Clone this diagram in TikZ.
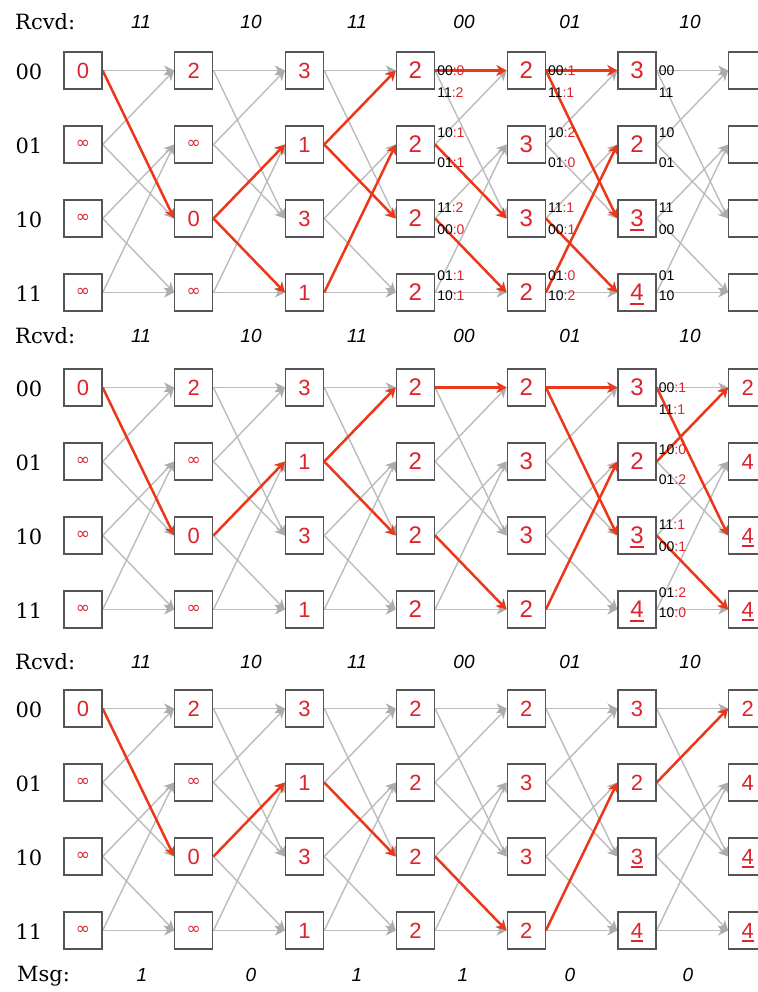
\documentclass[tikz,border=0pt]{standalone}
\usepackage{fontspec}
\setmainfont{DejaVu Serif}
\newfontfamily\numfont{Liberation Sans}
\newfontfamily\symfont{DejaVu Sans}
\usetikzlibrary{arrows.meta}
\pgfdeclarelayer{bg}
\pgfdeclarelayer{edges}
\pgfsetlayers{bg,edges,main}
\definecolor{tred}{RGB}{220,36,46}
\definecolor{lred}{RGB}{236,56,26}
\definecolor{lgray}{RGB}{188,188,188}
\definecolor{agray}{RGB}{172,172,172}
\definecolor{bgray}{RGB}{85,85,85}
\newcommand\infsym{{\symfont\fontsize{17}{17}\selectfont ∞}}
\newsavebox\ulbox
\newcommand\ulnum[1]{\sbox\ulbox{#1}\rlap{\raisebox{-4pt}[0pt][0pt]{\rule{\wd\ulbox}{1.6pt}}}\usebox\ulbox}
\newcommand\rd[1]{\textcolor{tred}{#1}}
\tikzset{
  stbox/.style={draw=bgray, line width=1.3pt, fill=white, minimum width=38pt, minimum height=37pt, inner sep=0pt, text=tred},
  gedge/.style={draw=lgray, line width=1.4pt, -{Stealth[length=10pt,width=10pt,inset=3pt,color=agray]}},
  redge/.style={draw=lred, line width=2.5pt, -{Stealth[length=10pt,width=11pt]}},
  lbl/.style={font=\numfont\fontsize{14}{14}\selectfont, inner sep=0pt, anchor=west},
  rowlbl/.style={font=\fontsize{21}{21}\selectfont, inner sep=0pt},
  rcv/.style={font=\numfont\itshape\fontsize{19}{19}\selectfont, inner sep=0pt},
}
\newcommand\labs[4]{%
  \ifcase#2 \def\ua{0}\def\la{-22}\or \def\ua{12}\def\la{-18}\or \def\ua{11}\def\la{-11}\or \def\ua{17}\def\la{-3}\fi
  \node[lbl] (#1a) at ([xshift=2pt,yshift=\ua pt]#1.east) {#3};
  \node[lbl] (#1b) at ([xshift=2pt,yshift=\la pt]#1.east) {#4};
}
\begin{document}
\begin{tikzpicture}[x=1pt,y=-1pt]
\begin{pgfonlayer}{bg}
\fill[white] (0,0) rectangle (757,992);
\end{pgfonlayer}
\useasboundingbox (0,0) rectangle (757,992);
% boxes
\foreach \P/\Y in {1/70.5,2/387.5,3/708.5}{
  \foreach \c/\va/\vb/\vc/\vd in {0/0/\infsym/\infsym/\infsym, 1/2/\infsym/0/\infsym, 2/3/1/3/1, 3/2/2/2/2, 4/2/3/3/2, 5/3/2/\ulnum{3}/\ulnum{4}}{
    \ifnum\P<3 \ifnum\c>2 \def\nf{24}\else\def\nf{22}\fi\else\def\nf{22}\fi
    \node[stbox,font=\numfont\fontsize{\nf}{\nf}\selectfont] (p\P-\c-0) at ({83+110.8*\c},{\Y}) {\va};
    \node[stbox,font=\numfont\fontsize{\nf}{\nf}\selectfont] (p\P-\c-1) at ({83+110.8*\c},{\Y+74}) {\vb};
    \node[stbox,font=\numfont\fontsize{\nf}{\nf}\selectfont] (p\P-\c-2) at ({83+110.8*\c},{\Y+148}) {\vc};
    \node[stbox,font=\numfont\fontsize{\nf}{\nf}\selectfont] (p\P-\c-3) at ({83+110.8*\c},{\Y+222}) {\vd};
  }
}
\foreach \r in {0,...,3}{\node[stbox] (p1-6-\r) at ({83+110.8*6},{70.5+74*\r}) {};}
\foreach \P/\Y in {2/387.5,3/708.5}{
  \foreach \r/\v in {0/2,1/4,2/\ulnum{4},3/\ulnum{4}}{
    \node[stbox,font=\numfont\fontsize{22}{22}\selectfont] (p\P-6-\r) at ({83+110.8*6},{\Y+74*\r}) {\v};
  }
}
\begin{pgfonlayer}{edges}
% gray edges
\foreach \P in {1,2,3}{
  \foreach \c [evaluate=\c as \n using int(\c+1)] in {0,...,5}{
    \foreach \r in {0,...,3}{
      \pgfmathtruncatemacro\ta{\r/2}
      \pgfmathtruncatemacro\tb{\r/2+2}
      \draw[gedge] (p\P-\c-\r.east) -- (p\P-\n-\ta.west);
      \draw[gedge] (p\P-\c-\r.east) -- (p\P-\n-\tb.west);
    }
  }
}
% red edges
\foreach \a/\b in {0-0/1-2, 1-2/2-1, 1-2/2-3, 2-1/3-0, 2-1/3-2, 2-3/3-1, 3-0/4-0, 3-1/4-2, 3-2/4-3, 4-0/5-0, 4-0/5-2, 4-3/5-1, 4-2/5-3}
  \draw[redge] (p1-\a.east) -- (p1-\b.west);
\foreach \a/\b in {0-0/1-2, 1-2/2-1, 2-1/3-0, 2-1/3-2, 3-0/4-0, 3-2/4-3, 4-0/5-0, 4-0/5-2, 4-3/5-1, 5-0/6-2, 5-1/6-0, 5-2/6-3}
  \draw[redge] (p2-\a.east) -- (p2-\b.west);
\foreach \a/\b in {0-0/1-2, 1-2/2-1, 2-1/3-2, 3-2/4-3, 4-3/5-1, 5-1/6-0}
  \draw[redge] (p3-\a.east) -- (p3-\b.west);
\end{pgfonlayer}
% branch labels
\labs{p1-3-0}{0}{00\rd{:0}}{11\rd{:2}}
\labs{p1-3-1}{1}{10\rd{:1}}{01\rd{:1}}
\labs{p1-3-2}{2}{11\rd{:2}}{00\rd{:0}}
\labs{p1-3-3}{3}{01\rd{:1}}{10\rd{:1}}
\labs{p1-4-0}{0}{00\rd{:1}}{11\rd{:1}}
\labs{p1-4-1}{1}{10\rd{:2}}{01\rd{:0}}
\labs{p1-4-2}{2}{11\rd{:1}}{00\rd{:1}}
\labs{p1-4-3}{3}{01\rd{:0}}{10\rd{:2}}
\labs{p1-5-0}{0}{00}{11}
\labs{p1-5-1}{1}{10}{01}
\labs{p1-5-2}{2}{11}{00}
\labs{p1-5-3}{3}{01}{10}
\labs{p2-5-0}{0}{00\rd{:1}}{11\rd{:1}}
\labs{p2-5-1}{1}{10\rd{:0}}{01\rd{:2}}
\labs{p2-5-2}{2}{11\rd{:1}}{00\rd{:1}}
\labs{p2-5-3}{3}{01\rd{:2}}{10\rd{:0}}
% row labels
\foreach \P/\Y in {1/70.5,2/387.5,3/708.5}{
  \foreach \r/\t in {0/00,1/01,2/10,3/11}{
    \node[rowlbl] (rl\P-\r) at (29,{\Y+74*\r+1}) {\t};
  }
}
% Rcvd labels
\foreach \P/\Y in {1/30,2/343,3/669}{
  \node[rowlbl,anchor=base west] (rc\P) at (15,\Y) {Rcvd:};
  \foreach \i/\x/\t in {1/141/11,2/251/10,3/357/11,4/464/00,5/570/01,6/690/10}{
    \node[rcv,anchor=base] (rv\P-\i) at (\x,{\Y-1}) {\t};
  }
}
\node[rowlbl,anchor=base west] (msg) at (17,981) {Msg:};
\foreach \i/\x/\t in {1/142/1,2/251/0,3/357/1,4/463/1,5/570/0,6/688/0}{
  \node[rcv,anchor=base] (mv\i) at (\x,981) {\t};
}
\end{tikzpicture}
\end{document}
